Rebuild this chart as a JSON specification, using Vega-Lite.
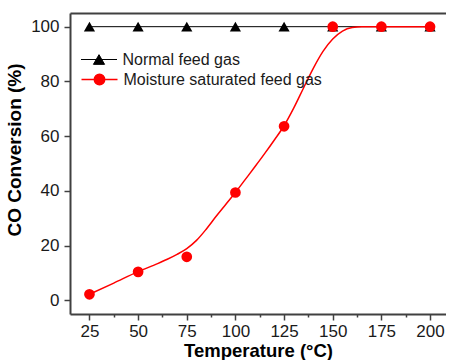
{
  "$schema": "https://vega.github.io/schema/vega-lite/v6.json",
  "width": 376,
  "height": 301,
  "padding": {"left": 5, "top": 13, "right": 0, "bottom": 0},
  "background": "white",
  "config": {
    "view": {"stroke": null},
    "font": "Liberation Sans",
    "axis": {
      "domainColor": "#404040",
      "domainWidth": 2,
      "tickColor": "#404040",
      "tickWidth": 1.5,
      "labelFont": "Liberation Sans",
      "labelFontSize": 17,
      "labelColor": "#1a1a1a",
      "titleFont": "Liberation Sans",
      "titleFontWeight": "bold",
      "titleColor": "#000000",
      "grid": false
    },
    "legend": {
      "labelFont": "Liberation Sans",
      "labelFontSize": 16,
      "labelColor": "#1a1a1a",
      "labelLimit": 400,
      "labelOffset": 5,
      "padding": 0,
      "symbolSize": 1296,
      "symbolOpacity": 1
    }
  },
  "datasets": {
    "points": [
      {"series": "Normal feed gas", "T": 25, "conv": 100},
      {"series": "Normal feed gas", "T": 50, "conv": 100},
      {"series": "Normal feed gas", "T": 75, "conv": 100},
      {"series": "Normal feed gas", "T": 100, "conv": 100},
      {"series": "Normal feed gas", "T": 125, "conv": 100},
      {"series": "Normal feed gas", "T": 150, "conv": 100},
      {"series": "Normal feed gas", "T": 175, "conv": 100},
      {"series": "Normal feed gas", "T": 200, "conv": 100},
      {"series": "Moisture saturated feed gas", "T": 25, "conv": 2.2},
      {"series": "Moisture saturated feed gas", "T": 50, "conv": 10.4},
      {"series": "Moisture saturated feed gas", "T": 75, "conv": 15.9},
      {"series": "Moisture saturated feed gas", "T": 100, "conv": 39.4},
      {"series": "Moisture saturated feed gas", "T": 125, "conv": 63.6},
      {"series": "Moisture saturated feed gas", "T": 150, "conv": 100},
      {"series": "Moisture saturated feed gas", "T": 175, "conv": 100},
      {"series": "Moisture saturated feed gas", "T": 200, "conv": 100}
    ],
    "curve": [
      {"T": 25, "conv": 2.2},
      {"T": 37.5, "conv": 6.3},
      {"T": 50, "conv": 10.5},
      {"T": 60, "conv": 13.4},
      {"T": 65, "conv": 15.0},
      {"T": 70, "conv": 16.8},
      {"T": 75, "conv": 18.9},
      {"T": 80, "conv": 21.9},
      {"T": 85, "conv": 26.0},
      {"T": 90, "conv": 30.6},
      {"T": 95, "conv": 35.0},
      {"T": 100, "conv": 39.4},
      {"T": 105, "conv": 44.1},
      {"T": 110, "conv": 48.8},
      {"T": 115, "conv": 53.6},
      {"T": 120, "conv": 58.6},
      {"T": 125, "conv": 63.8},
      {"T": 130, "conv": 70.3},
      {"T": 135, "conv": 77.6},
      {"T": 140, "conv": 84.8},
      {"T": 145, "conv": 91.0},
      {"T": 150, "conv": 95.5},
      {"T": 155, "conv": 98.4},
      {"T": 160, "conv": 99.7},
      {"T": 165, "conv": 100},
      {"T": 175, "conv": 100},
      {"T": 200, "conv": 100}
    ]
  },
  "layer": [
    {
      "data": {"name": "points"},
      "transform": [{"filter": "datum.series === 'Normal feed gas'"}],
      "mark": {"type": "line", "color": "#000000", "strokeWidth": 1},
      "encoding": {
        "x": {
          "field": "T", "type": "quantitative",
          "scale": {"domain": [15, 208.2], "nice": false, "zero": false},
          "axis": {"orient": "top", "labels": false, "ticks": false, "title": null, "domain": true}
        },
        "y": {
          "field": "conv", "type": "quantitative",
          "scale": {"domain": [-5, 105], "nice": false, "zero": false},
          "axis": {
            "title": "CO Conversion (%)",
            "titleFontSize": 19,
            "titlePadding": 6,
            "titleY": 136.5,
            "values": [0, 10, 20, 30, 40, 50, 60, 70, 80, 90, 100],
            "labelExpr": "datum.value % 20 === 0 ? datum.label : ''",
            "tickSize": {"condition": {"test": "datum.value % 20 === 0", "value": 6}, "value": 3},
            "labelPadding": 5
          }
        }
      }
    },
    {
      "data": {"name": "curve"},
      "mark": {"type": "line", "color": "#ff0000", "strokeWidth": 1.5, "interpolate": "monotone"},
      "encoding": {
        "x": {"field": "T", "type": "quantitative", "axis": null},
        "y": {"field": "conv", "type": "quantitative"}
      }
    },
    {
      "data": {"name": "points"},
      "transform": [{"filter": "datum.series === 'Normal feed gas'"}],
      "mark": {"type": "point", "shape": "triangle-up", "filled": true, "opacity": 1, "size": 125},
      "encoding": {
        "x": {
          "field": "T", "type": "quantitative",
          "axis": {
            "orient": "bottom",
            "title": "Temperature (°C)",
            "titleFontSize": 18.5,
            "titlePadding": 2,
            "values": [25, 37.5, 50, 62.5, 75, 87.5, 100, 112.5, 125, 137.5, 150, 162.5, 175, 187.5, 200],
            "labelExpr": "datum.value % 25 === 0 ? datum.label : ''",
            "tickSize": {"condition": {"test": "datum.value % 25 === 0", "value": 6}, "value": 3},
            "labelPadding": 3
          }
        },
        "y": {"field": "conv", "type": "quantitative"},
        "color": {
          "field": "series", "type": "nominal",
          "scale": {"domain": ["Normal feed gas"], "range": ["#000000"]},
          "legend": {
            "title": null,
            "orient": "none",
            "legendX": 10.5,
            "legendY": 28,
            "symbolType": "M-1,0H1M0,-0.27L0.31,0.27L-0.31,0.27Z",
            "symbolFillColor": "#000000",
            "symbolStrokeColor": "#000000",
            "symbolStrokeWidth": 1,
            "encode": {
              "symbols": {
                "update": {
                  "shape": {"value": "M-1,0H1M0,-0.27L0.31,0.27L-0.31,0.27Z"},
                  "stroke": {"value": "#000000"},
                  "strokeWidth": {"value": 1}
                }
              }
            }
          }
        }
      }
    },
    {
      "data": {"name": "points"},
      "transform": [{"filter": "datum.series === 'Moisture saturated feed gas'"}],
      "mark": {"type": "point", "shape": "circle", "filled": true, "opacity": 1, "size": 115},
      "encoding": {
        "x": {"field": "T", "type": "quantitative", "axis": null},
        "y": {"field": "conv", "type": "quantitative"},
        "color": {
          "field": "series", "type": "nominal",
          "scale": {"domain": ["Moisture saturated feed gas"], "range": ["#ff0000"]},
          "legend": {
            "title": null,
            "orient": "none",
            "legendX": 10.5,
            "legendY": 47.5,
            "symbolType": "M-1,0H1M0.29,0A0.29,0.29,0,1,1,-0.29,0A0.29,0.29,0,1,1,0.29,0Z",
            "symbolFillColor": "#ff0000",
            "symbolStrokeColor": "#ff0000",
            "symbolStrokeWidth": 1.5,
            "encode": {
              "symbols": {
                "update": {
                  "shape": {"value": "M-1,0H1M0.29,0A0.29,0.29,0,1,1,-0.29,0A0.29,0.29,0,1,1,0.29,0Z"},
                  "stroke": {"value": "#ff0000"},
                  "strokeWidth": {"value": 1.5}
                }
              }
            }
          }
        }
      }
    }
  ],
  "resolve": {"axis": {"x": "independent"}, "scale": {"color": "independent"}}
}
